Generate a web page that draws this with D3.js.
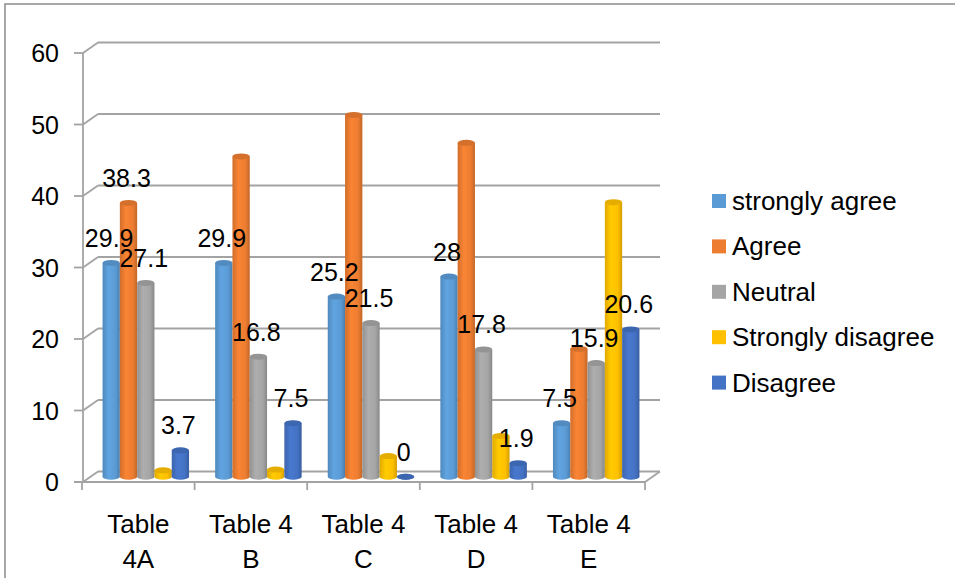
<!DOCTYPE html>
<html>
<head>
<meta charset="utf-8">
<script src="https://cdn.jsdelivr.net/npm/d3@7/dist/d3.min.js"></script>
<style>
  body { margin: 0; background: #fff; }
  text { font-family: "Liberation Sans", Arial, sans-serif; fill: #000; }
</style>
</head>
<body>
<svg id="drawing_region"></svg>
<script>
// data
var categories = ['Table 4A', 'Table 4 B', 'Table 4 C', 'Table 4 D', 'Table 4 E'];
var seriesNames = ['strongly agree', 'Agree', 'Neutral', 'Strongly disagree', 'Disagree'];
var seriesColors = ['#5B9BD5', '#ED7D31', '#A5A5A5', '#FFC000', '#4472C4'];

var stronglyAgree = [29.9, 29.9, 25.2, 28, 7.5];
var agree = [38.3, 44.8, 50.6, 46.7, 17.9];
var neutral = [27.1, 16.8, 21.5, 17.8, 15.9];
var stronglyDisagree = [0.9, 1.0, 2.9, 5.7, 38.4];
var disagree = [3.7, 7.5, 0, 1.9, 20.6];

// which data labels show in the original (1 = shown)
var stronglyAgreeLabels = [1, 1, 1, 1, 1];
var agreeLabels = [1, 0, 0, 0, 0];
var neutralLabels = [1, 1, 1, 1, 1];
var stronglyDisagreeLabels = [0, 0, 0, 0, 0];
var disagreeLabels = [1, 1, 1, 1, 1];

var yTicks = [0, 10, 20, 30, 40, 50, 60];

var seriesValues = [stronglyAgree, agree, neutral, stronglyDisagree, disagree];
var seriesLabels = [stronglyAgreeLabels, agreeLabels, neutralLabels, stronglyDisagreeLabels, disagreeLabels];

var width = 955;
var height = 578;
var depth = {dx: 15, dy: -10.5};
var gridColor = '#a3a3a3';

var svg = d3.select('#drawing_region')
    .attr('width', width)
    .attr('height', height);

// outer frame (cut off on right and bottom)
svg.append('rect')
    .attr('x', 5).attr('y', 4)
    .attr('width', 1000).attr('height', 700)
    .attr('fill', 'none')
    .attr('stroke', '#8a8a8a')
    .attr('stroke-width', 1.5);

// scales: front plane, back wall, and bar plane (mid depth)
var yFront = d3.scaleLinear().domain([0, 60]).range([482, 53]);
var yBack = d3.scaleLinear().domain([0, 60]).range([482 + depth.dy, 53 + depth.dy]);
var yBar = d3.scaleLinear().domain([0, 60]).range([482 + depth.dy / 2, 53 + depth.dy / 2]);

var x0 = d3.scaleBand().domain(categories).range([82, 645]);
var groupWidth = 86.5;
var x1 = d3.scaleBand().domain(seriesNames).range([0, groupWidth]);

var backLeft = 83 + depth.dx;
var backRight = 645 + depth.dx;

// back wall gridlines + diagonal tick connectors
var grid = svg.append('g')
    .attr('stroke', gridColor)
    .attr('stroke-width', 1.8)
    .attr('fill', 'none');

grid.selectAll('line.h')
    .data(yTicks)
    .join('line')
    .attr('class', 'h')
    .attr('x1', backLeft).attr('x2', backRight)
    .attr('y1', d => yBack(d)).attr('y2', d => yBack(d));

grid.selectAll('line.d')
    .data(yTicks)
    .join('line')
    .attr('class', 'd')
    .attr('x1', 83).attr('x2', backLeft)
    .attr('y1', d => yFront(d)).attr('y2', d => yBack(d));

// front y axis with ticks
grid.append('line')
    .attr('x1', 83).attr('x2', 83)
    .attr('y1', yFront(60)).attr('y2', yFront(0));

grid.selectAll('line.t')
    .data(yTicks)
    .join('line')
    .attr('class', 't')
    .attr('x1', 74).attr('x2', 83)
    .attr('y1', d => yFront(d)).attr('y2', d => yFront(d));

// floor front edge, right edge, category ticks
grid.append('line')
    .attr('x1', 74).attr('x2', 645)
    .attr('y1', yFront(0)).attr('y2', yFront(0));
grid.append('line')
    .attr('x1', 645).attr('x2', backRight)
    .attr('y1', yFront(0)).attr('y2', yBack(0));

var catTicks = categories.map(c => x0(c)).concat([645]);
grid.selectAll('line.c')
    .data(catTicks)
    .join('line')
    .attr('class', 'c')
    .attr('x1', d => d).attr('x2', d => d)
    .attr('y1', yFront(0)).attr('y2', yFront(0) + 8);

// y tick labels
svg.append('g')
    .selectAll('text')
    .data(yTicks)
    .join('text')
    .attr('x', 59)
    .attr('y', d => yFront(d))
    .attr('text-anchor', 'end')
    .attr('dominant-baseline', 'central')
    .attr('font-size', 25)
    .text(d => d);

// category labels, wrapped at last space
var catLabels = svg.append('g')
    .selectAll('text')
    .data(categories)
    .join('text')
    .attr('text-anchor', 'middle')
    .attr('font-size', 26);

catLabels.each(function(c) {
    var i = c.lastIndexOf(' ');
    var lines = [c.slice(0, i), c.slice(i + 1)];
    var cx = x0(c) + x0.bandwidth() / 2;
    d3.select(this).selectAll('tspan')
        .data(lines)
        .join('tspan')
        .attr('x', cx)
        .attr('y', (d, k) => 533 + k * 35)
        .text(d => d);
});

// gradients for cylinders
var defs = svg.append('defs');
seriesColors.forEach(function(col, i) {
    var base = d3.color(col);
    var g = defs.append('linearGradient')
        .attr('id', 'grad' + i)
        .attr('x1', '0%').attr('x2', '100%')
        .attr('y1', '0%').attr('y2', '0%');
    g.append('stop').attr('offset', '0%').attr('stop-color', base.darker(0.35));
    g.append('stop').attr('offset', '35%').attr('stop-color', base.brighter(0.15));
    g.append('stop').attr('offset', '75%').attr('stop-color', base);
    g.append('stop').attr('offset', '100%').attr('stop-color', base.darker(0.55));
});

// bar records
var bars = [];
categories.forEach(function(c, ci) {
    seriesNames.forEach(function(s, si) {
        bars.push({cat: c, series: s, si: si, value: seriesValues[si][ci], shown: seriesLabels[si][ci]});
    });
});

var bw = x1.bandwidth();
var rx = bw / 2;
var ry = 3;
function barLeft(d) {
    return x0(d.cat) + x0.bandwidth() / 2 + depth.dx / 2 - groupWidth / 2 + x1(d.series);
}

var barG = svg.append('g')
    .selectAll('g')
    .data(bars)
    .join('g');

barG.filter(d => d.value > 0)
    .append('rect')
    .attr('x', d => barLeft(d))
    .attr('y', d => yBar(d.value))
    .attr('width', bw)
    .attr('height', d => yBar(0) - yBar(d.value))
    .attr('fill', d => 'url(#grad' + d.si + ')');

barG.append('ellipse')
    .attr('cx', d => barLeft(d) + rx)
    .attr('cy', yBar(0))
    .attr('rx', rx).attr('ry', ry)
    .attr('fill', d => 'url(#grad' + d.si + ')');

barG.append('ellipse')
    .attr('cx', d => barLeft(d) + rx)
    .attr('cy', d => yBar(d.value))
    .attr('rx', rx).attr('ry', ry)
    .attr('fill', d => d3.color(seriesColors[d.si]).darker(0.3));

// data labels
svg.append('g')
    .selectAll('text')
    .data(bars.filter(d => d.shown))
    .join('text')
    .attr('x', d => barLeft(d) + rx - 2)
    .attr('y', d => yBar(d.value) - 16)
    .attr('text-anchor', 'middle')
    .attr('font-size', 25)
    .text(d => d.value);

// legend
var legend = svg.append('g')
    .selectAll('g')
    .data(seriesNames)
    .join('g')
    .attr('transform', (d, i) => `translate(712, ${201 + i * 45.4})`);

legend.append('rect')
    .attr('x', 0).attr('y', -7)
    .attr('width', 14).attr('height', 14)
    .attr('fill', (d, i) => seriesColors[i]);

legend.append('text')
    .attr('x', 20)
    .attr('y', 0)
    .attr('dominant-baseline', 'central')
    .attr('font-size', 26)
    .text(d => d);
</script>
</body>
</html>
